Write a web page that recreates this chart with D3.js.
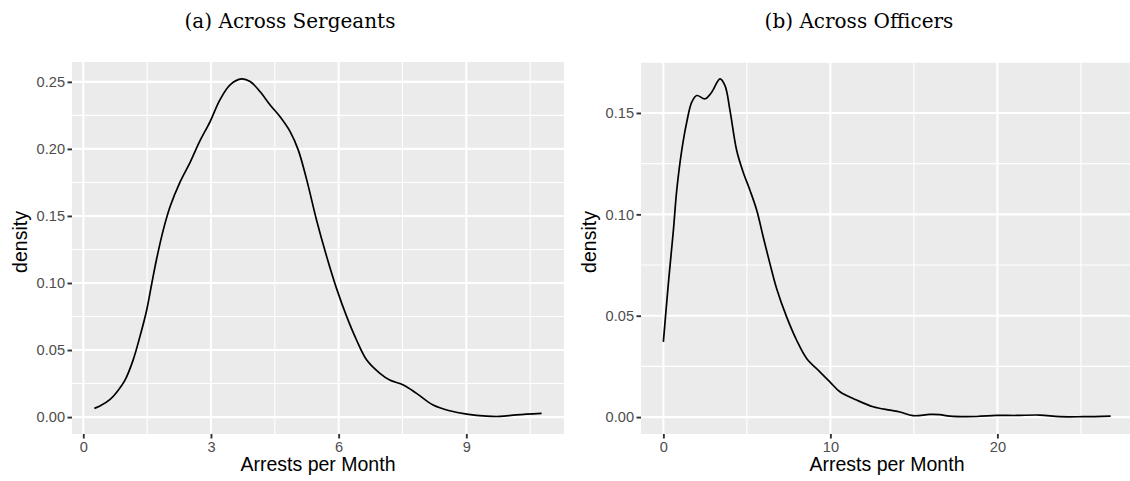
<!DOCTYPE html>
<html>
<head>
<meta charset="utf-8">
<script src="https://cdn.jsdelivr.net/npm/d3@7"></script>
<style>
  html, body { margin: 0; padding: 0; background: #ffffff; }
  svg { display: block; }
</style>
</head>
<body>
<svg id="fig" width="1130" height="481"></svg>
<script>
// Kernel density of monthly arrests, sergeants (left) and officers (right)
const sergeantArrests = [0.26, 0.39, 0.63, 0.78, 0.98, 1.17, 1.33, 1.49, 1.61, 1.72, 1.88, 2.04, 2.27, 2.51, 2.74,
  2.98, 3.21, 3.45, 3.72, 3.92, 4.15, 4.39, 4.62, 4.86, 5.05, 5.25, 5.48, 5.72, 5.95, 6.19, 6.42, 6.66, 6.97,
  7.2, 7.52, 7.83, 8.22, 8.61, 9.01, 9.48, 9.79, 10.18, 10.77];
const sergeantDensity = [0.0065, 0.0082, 0.0132, 0.0184, 0.0276, 0.0425, 0.060, 0.0799, 0.0998, 0.1175, 0.1396,
  0.157, 0.1750, 0.190, 0.2060, 0.2204, 0.2366, 0.2478, 0.2522, 0.2502, 0.2428, 0.2328, 0.2241, 0.2129,
  0.1993, 0.1769, 0.147, 0.1196, 0.096, 0.0749, 0.0575, 0.0425, 0.0326, 0.0276, 0.0239, 0.0177, 0.009,
  0.0047, 0.0022, 0.0007, 0.0005, 0.0017, 0.0028];

const officerArrests = [0, 0.3, 0.6, 0.8, 1.1, 1.4, 1.7, 2.0, 2.49, 2.89, 3.39, 3.69, 3.99, 4.39, 4.78, 5.19,
  5.59, 5.98, 6.38, 6.78, 7.38, 7.98, 8.58, 9.37, 9.97, 10.57, 11.57, 12.56, 13.56, 14.16, 14.95, 15.95,
  16.55, 17.15, 18.74, 19.94, 21.14, 22.53, 23.73, 25.12, 26.78];
const officerDensity = [0.0371, 0.0659, 0.0921, 0.1118, 0.1315, 0.1455, 0.1553, 0.1586, 0.157, 0.1602, 0.1668,
  0.1635, 0.1512, 0.1315, 0.1208, 0.1118, 0.102, 0.0888, 0.0757, 0.0634, 0.0494, 0.0379, 0.0289, 0.0223,
  0.0174, 0.0125, 0.0084, 0.0051, 0.0034, 0.0025, 0.0007, 0.0013, 0.0012, 0.0005, 0.0003, 0.0008, 0.0008,
  0.001, 0.0002, 0.0002, 0.0005];

const sergeantXTicks = [0, 3, 6, 9];
const sergeantYTicks = [0, 0.05, 0.10, 0.15, 0.20, 0.25];
const officerXTicks = [0, 10, 20];
const officerYTicks = [0, 0.05, 0.10, 0.15];

const panelTitles = ["(a) Across Sergeants", "(b) Across Officers"];
const xTitle = "Arrests per Month";
const yTitle = "density";

const svg = d3.select("#fig");

const panels = [
  { title: panelTitles[0], titleX: 290, xs: sergeantArrests, ys: sergeantDensity,
    xTicks: sergeantXTicks, yTicks: sergeantYTicks, box: { left: 72, right: 564, top: 62, bottom: 434 } },
  { title: panelTitles[1], titleX: 859, xs: officerArrests, ys: officerDensity,
    xTicks: officerXTicks, yTicks: officerYTicks, box: { left: 641, right: 1133, top: 62, bottom: 434 } }
];

// ggplot-style 5% expansion on both sides of the data range
function expand(lo, hi) {
  const pad = (hi - lo) * 0.05;
  return [lo - pad, hi + pad];
}

// midpoints between consecutive breaks, plus one step beyond each end, kept inside the domain
function minorBreaks(ticks, domain) {
  const step = ticks[1] - ticks[0];
  const out = [];
  for (let v = ticks[0] - step / 2; v <= domain[1] + 1e-9; v += step) {
    if (v >= domain[0] && v <= domain[1] - 1e-4) out.push(v);
  }
  return out;
}

const fmtY = d3.format(".2f");

panels.forEach(p => {
  const b = p.box;
  const x = d3.scaleLinear().domain(expand(d3.min(p.xs), d3.max(p.xs))).range([b.left, b.right]);
  const y = d3.scaleLinear().domain(expand(0, d3.max(p.ys))).range([b.bottom, b.top]);

  const g = svg.append("g");

  // panel background
  g.append("rect")
    .attr("x", b.left).attr("y", b.top)
    .attr("width", b.right - b.left).attr("height", b.bottom - b.top)
    .attr("fill", "#ebebeb");

  // minor grid
  minorBreaks(p.xTicks, x.domain()).forEach(v => {
    g.append("line").attr("x1", x(v)).attr("x2", x(v)).attr("y1", b.top).attr("y2", b.bottom)
      .attr("stroke", "#ffffff").attr("stroke-width", 1.1);
  });
  minorBreaks(p.yTicks, y.domain()).forEach(v => {
    g.append("line").attr("y1", y(v)).attr("y2", y(v)).attr("x1", b.left).attr("x2", b.right)
      .attr("stroke", "#ffffff").attr("stroke-width", 1.1);
  });
  // major grid
  p.xTicks.forEach(v => {
    g.append("line").attr("x1", x(v)).attr("x2", x(v)).attr("y1", b.top).attr("y2", b.bottom)
      .attr("stroke", "#ffffff").attr("stroke-width", 2.1);
  });
  p.yTicks.forEach(v => {
    g.append("line").attr("y1", y(v)).attr("y2", y(v)).attr("x1", b.left).attr("x2", b.right)
      .attr("stroke", "#ffffff").attr("stroke-width", 2.1);
  });

  // density curve
  const line = d3.line()
    .x((d, i) => x(p.xs[i]))
    .y(d => y(d))
    .curve(d3.curveCatmullRom.alpha(0.5));
  g.append("path")
    .datum(p.ys)
    .attr("d", line)
    .attr("fill", "none")
    .attr("stroke", "#000000")
    .attr("stroke-width", 1.7)
    .attr("stroke-linejoin", "round");

  // axes
  const xAxis = d3.axisBottom(x).tickValues(p.xTicks).tickSize(4.5).tickPadding(3).tickFormat(d3.format("d"));
  const yAxis = d3.axisLeft(y).tickValues(p.yTicks).tickSize(4.5).tickPadding(2.5).tickFormat(fmtY);

  const gx = g.append("g").attr("transform", `translate(0,${b.bottom})`).call(xAxis);
  const gy = g.append("g").attr("transform", `translate(${b.left},0)`).call(yAxis);
  [gx, gy].forEach(a => {
    a.select(".domain").remove();
    a.selectAll(".tick line").attr("stroke", "#333333").attr("stroke-width", 1.9);
    a.selectAll(".tick text")
      .attr("fill", "#4d4d4d")
      .attr("font-family", "'Liberation Sans', Arial, sans-serif")
      .attr("font-size", 14.6);
  });

  // axis titles
  g.append("text")
    .attr("x", (b.left + b.right) / 2)
    .attr("y", 471)
    .attr("text-anchor", "middle")
    .attr("font-family", "'Liberation Sans', Arial, sans-serif")
    .attr("font-size", 19.5)
    .attr("fill", "#000000")
    .text(xTitle);

  g.append("text")
    .attr("transform", `translate(${b.left - 45},${(b.top + b.bottom) / 2 - 6}) rotate(-90)`)
    .attr("text-anchor", "middle")
    .attr("font-family", "'Liberation Sans', Arial, sans-serif")
    .attr("font-size", 19.5)
    .attr("fill", "#000000")
    .text(yTitle);

  // subfigure caption
  svg.append("text")
    .attr("x", p.titleX)
    .attr("y", 28)
    .attr("text-anchor", "middle")
    .attr("font-family", "'DejaVu Serif', 'Liberation Serif', serif")
    .attr("font-size", 20)
    .attr("fill", "#000000")
    .text(p.title);
});
</script>
</body>
</html>
